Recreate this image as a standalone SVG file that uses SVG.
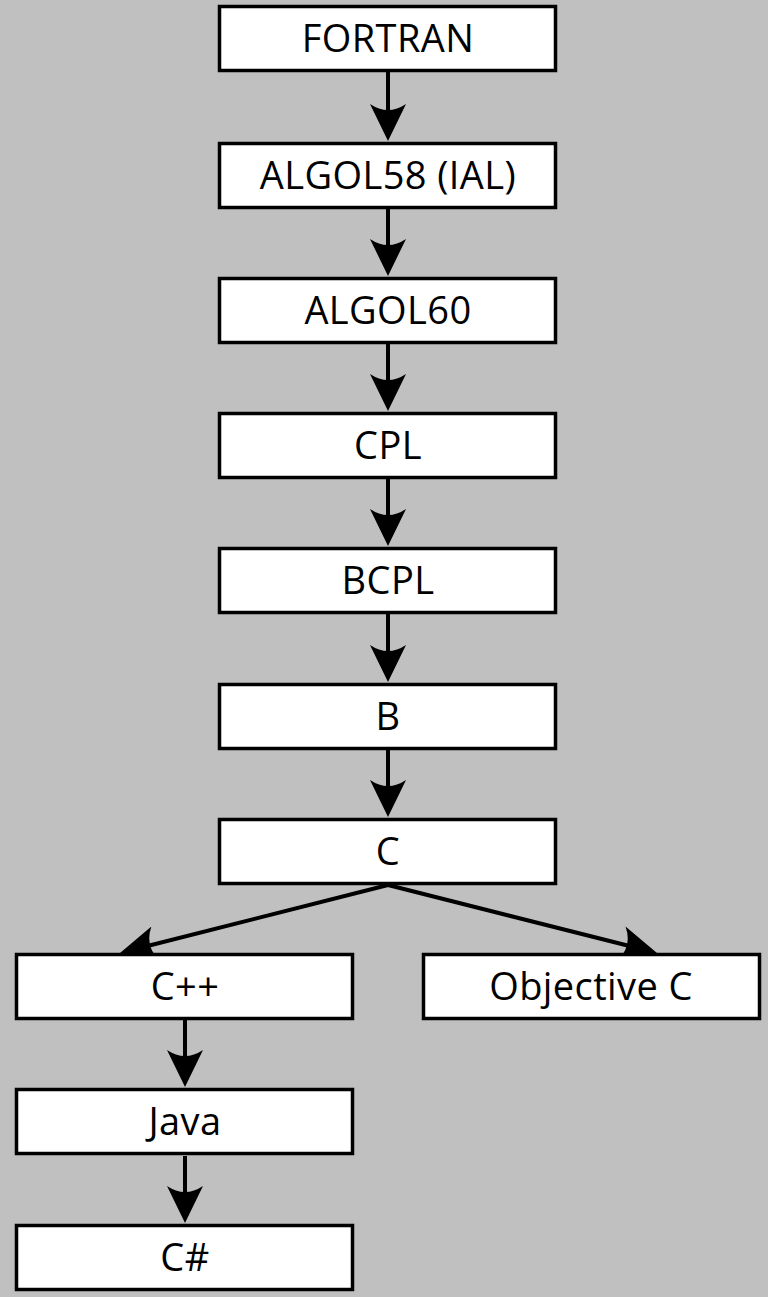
<svg xmlns="http://www.w3.org/2000/svg" width="768" height="1297" viewBox="0 0 768 1297">
<style>
.box{fill:#ffffff;stroke:#000000;stroke-width:3.5}
.lbl{font-family:"Open Sans","Liberation Sans",sans-serif;font-size:38px;letter-spacing:0.4px;fill:#000000;text-anchor:middle}
.con{stroke:#000000;stroke-width:4;fill:none;marker-end:url(#ah)}
</style>
<defs>
<marker id="ah" viewBox="0 0 37 36" refX="27" refY="18" markerWidth="37" markerHeight="36" markerUnits="userSpaceOnUse" orient="auto">
<path d="M0,0 L37,18 L0,36 Q12,18 0,0 Z" fill="#000000"/>
</marker>
</defs>
<rect x="0" y="0" width="768" height="1297" fill="#c0c0c0"/>
<g id="connectors">
<line class="con" x1="388" y1="72" x2="388" y2="131"/>
<line class="con" x1="388" y1="209" x2="388" y2="266"/>
<line class="con" x1="388" y1="344" x2="388" y2="401"/>
<line class="con" x1="388" y1="479" x2="388" y2="536"/>
<line class="con" x1="388" y1="614" x2="388" y2="672"/>
<line class="con" x1="388" y1="750" x2="388" y2="807"/>
<line class="con" x1="388" y1="885" x2="129.7" y2="950.5"/>
<line class="con" x1="388" y1="885" x2="647.3" y2="950.5"/>
<line class="con" x1="185" y1="1020" x2="185" y2="1077"/>
<line class="con" x1="185" y1="1156" x2="185" y2="1213"/>
</g>
<g id="n-fortran"><rect class="box" x="219.5" y="6.5" width="336" height="64"/><text class="lbl" x="388" y="52">FORTRAN</text></g>
<g id="n-algol58"><rect class="box" x="219.5" y="143.5" width="336" height="64"/><text class="lbl" x="388" y="189">ALGOL58 (IAL)</text></g>
<g id="n-algol60"><rect class="box" x="219.5" y="278.5" width="336" height="64"/><text class="lbl" x="388" y="324">ALGOL60</text></g>
<g id="n-cpl"><rect class="box" x="219.5" y="413.5" width="336" height="64"/><text class="lbl" x="388" y="459">CPL</text></g>
<g id="n-bcpl"><rect class="box" x="219.5" y="548.5" width="336" height="64"/><text class="lbl" x="388" y="594">BCPL</text></g>
<g id="n-b"><rect class="box" x="219.5" y="684.5" width="336" height="64"/><text class="lbl" x="388" y="730">B</text></g>
<g id="n-c"><rect class="box" x="219.5" y="819.5" width="336" height="64"/><text class="lbl" x="388" y="865">C</text></g>
<g id="n-cpp"><rect class="box" x="16.5" y="954.5" width="336" height="64"/><text class="lbl" x="185" y="1000">C++</text></g>
<g id="n-objc"><rect class="box" x="423.5" y="954.5" width="336" height="64"/><text class="lbl" x="591" y="1000">Objective C</text></g>
<g id="n-java"><rect class="box" x="16.5" y="1089.5" width="336" height="64"/><text class="lbl" x="185" y="1135">Java</text></g>
<g id="n-csharp"><rect class="box" x="16.5" y="1225.5" width="336" height="64"/><text class="lbl" x="185" y="1271">C#</text></g>
</svg>
